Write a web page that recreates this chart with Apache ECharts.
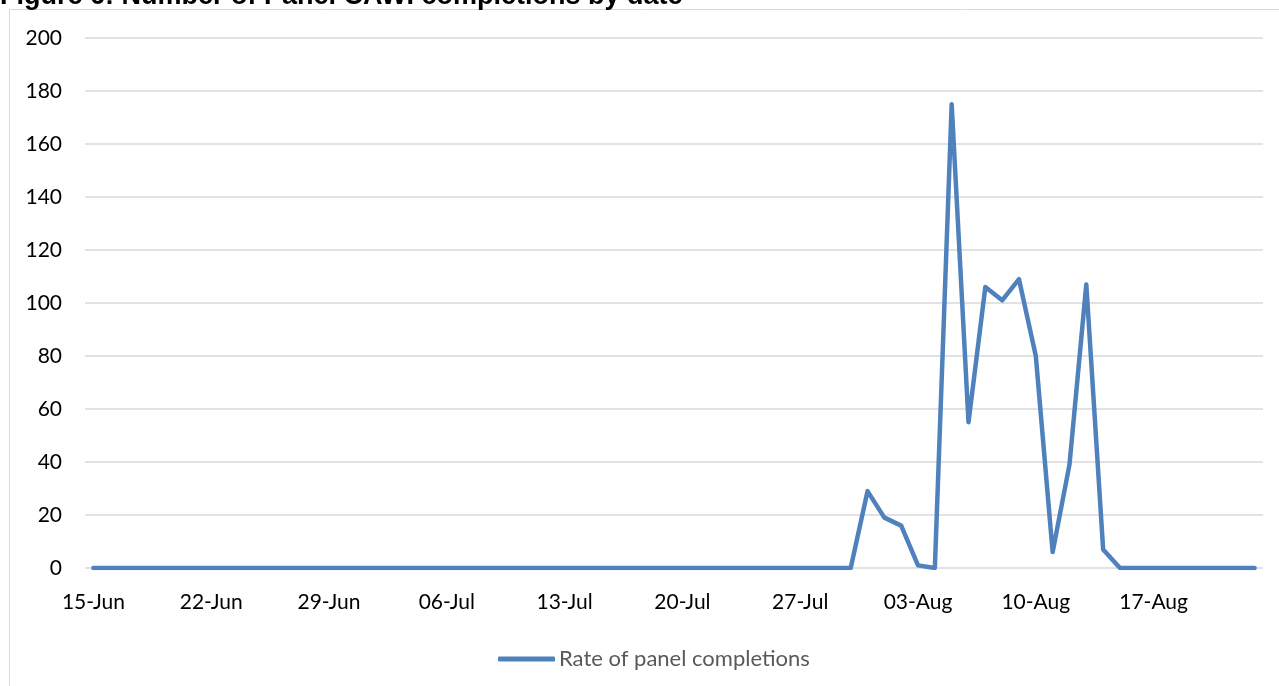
<!DOCTYPE html>
<html>
<head>
<meta charset="utf-8">
<title>Number of Panel CAWI completions by date</title>
<script src="https://cdn.jsdelivr.net/npm/echarts@6/dist/echarts.min.js"></script>
<style>
  html, body { margin: 0; padding: 0; background: #ffffff; overflow: hidden; }
  #chart { width: 1279px; height: 686px; }
</style>
</head>
<body>
<div id="chart"></div>
<script>
// Daily dates, 15 June to 23 August
const dates = [
  '15-Jun','16-Jun','17-Jun','18-Jun','19-Jun','20-Jun','21-Jun','22-Jun','23-Jun','24-Jun',
  '25-Jun','26-Jun','27-Jun','28-Jun','29-Jun','30-Jun',
  '01-Jul','02-Jul','03-Jul','04-Jul','05-Jul','06-Jul','07-Jul','08-Jul','09-Jul','10-Jul',
  '11-Jul','12-Jul','13-Jul','14-Jul','15-Jul','16-Jul','17-Jul','18-Jul','19-Jul','20-Jul',
  '21-Jul','22-Jul','23-Jul','24-Jul','25-Jul','26-Jul','27-Jul','28-Jul','29-Jul','30-Jul','31-Jul',
  '01-Aug','02-Aug','03-Aug','04-Aug','05-Aug','06-Aug','07-Aug','08-Aug','09-Aug','10-Aug',
  '11-Aug','12-Aug','13-Aug','14-Aug','15-Aug','16-Aug','17-Aug','18-Aug','19-Aug','20-Aug',
  '21-Aug','22-Aug','23-Aug'
];

// Panel completions per day
const completions = [
  0, 0, 0, 0, 0, 0, 0, 0, 0, 0,
  0, 0, 0, 0, 0, 0,
  0, 0, 0, 0, 0, 0, 0, 0, 0, 0,
  0, 0, 0, 0, 0, 0, 0, 0, 0, 0,
  0, 0, 0, 0, 0, 0, 0, 0, 0, 0, 29,
  19, 16, 1, 0, 175, 55, 106, 101, 109, 80,
  6, 39, 107, 7, 0, 0, 0, 0, 0, 0,
  0, 0, 0
];

const seriesName = 'Rate of panel completions';
const titleText = 'Figure 6: Number of Panel CAWI completions by date';
const yMin = 0, yMax = 200, yStep = 20;

const FONT = 'Lato';
const chart = echarts.init(document.getElementById('chart'), null, { renderer: 'canvas' });

chart.setOption({
  animation: false,
  backgroundColor: '#ffffff',
  graphic: [
    {
      type: 'rect',
      shape: { x: 9.5, y: 9.5, width: 1400, height: 800 },
      style: { fill: 'none', stroke: '#d9d9d9', lineWidth: 1 },
      silent: true
    },
    {
      type: 'text',
      left: 0,
      top: -17,
      style: {
        text: titleText,
        font: 'bold 27px "Liberation Sans", Arial, sans-serif',
        fill: '#000000'
      },
      silent: true
    }
  ],
  legend: {
    left: 493,
    top: 643,
    itemWidth: 57,
    itemHeight: 5,
    itemGap: 10,
    icon: 'roundRect',
    textStyle: { fontFamily: FONT, fontSize: 22, color: '#595959', padding: [0, 0, 0, -1] },
    data: [seriesName]
  },
  grid: {
    left: 85,
    right: 16,
    top: 38,
    bottom: 118,
    containLabel: false
  },
  xAxis: {
    type: 'category',
    data: dates,
    boundaryGap: true,
    axisLine: { show: false },
    axisTick: { show: false },
    splitLine: { show: false },
    axisLabel: {
      interval: 6,
      margin: 24,
      fontFamily: FONT,
      fontSize: 21,
      color: '#000000'
    }
  },
  yAxis: {
    type: 'value',
    min: yMin,
    max: yMax,
    interval: yStep,
    axisLine: { show: false },
    axisTick: { show: false },
    splitLine: { lineStyle: { color: '#d9d9d9', width: 1.5 } },
    axisLabel: {
      margin: 23,
      fontFamily: FONT,
      fontSize: 21,
      color: '#000000'
    }
  },
  series: [
    {
      name: seriesName,
      type: 'line',
      data: completions,
      showSymbol: false,
      symbol: 'none',
      itemStyle: { color: '#4f81bd' },
      lineStyle: { color: '#4f81bd', width: 4.5, cap: 'round', join: 'round' }
    }
  ]
});
</script>
</body>
</html>
